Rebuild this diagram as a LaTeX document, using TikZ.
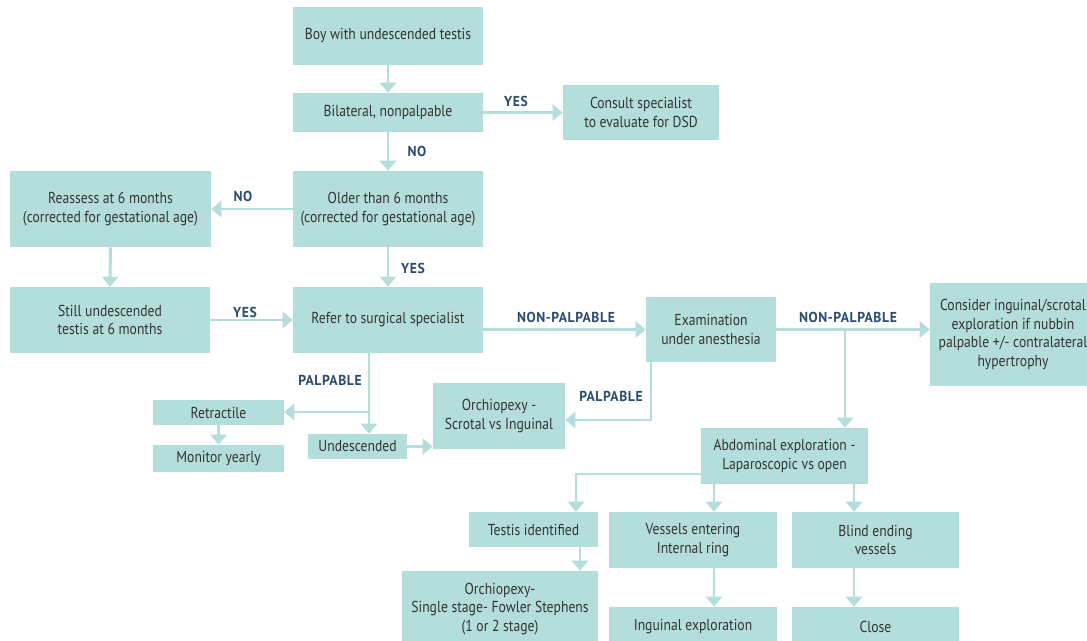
\documentclass[tikz,border=0pt]{standalone}
\usepackage{fontspec}
\setmainfont{PT Sans}[FakeStretch=0.86]
\newfontfamily\lblfont{PT Sans}[FakeStretch=0.95,LetterSpace=4]
\usetikzlibrary{arrows.meta,calc}
\definecolor{boxc}{HTML}{B3DEDB}
\definecolor{txtc}{HTML}{333333}
\definecolor{lblc}{HTML}{2C4B6E}
\begin{document}
\begin{tikzpicture}[x=0.75pt,y=-0.75pt,
  box/.style 2 args={fill=boxc, draw=none, minimum width=#1*0.75pt, minimum height=#2*0.75pt, inner sep=0pt, align=center, font=\fontsize{11.9}{14}\selectfont, text=txtc},
  lbl/.style={font=\lblfont\bfseries\fontsize{10.8}{12}\selectfont, text=lblc, inner sep=0pt},
  conn/.style={draw=boxc, line width=2.2pt, -{Triangle[width=12pt,length=7.5pt]}},
  plain/.style={draw=boxc, line width=2.2pt}]
\useasboundingbox (0,0) rectangle (1087,641);
\clip (0,0) rectangle (1087,641);
% boxes
\node[box={190}{58}] (boy) at (388,36) {Boy with undescended testis};
\node[box={190}{39}] (bil) at (388,112.5) {Bilateral, nonpalpable};
\node[box={156}{55}] (consult) at (641,112.5) {Consult specialist\\to evaluate for DSD};
\node[box={190}{76}] (older) at (388,209) {Older than 6 months\\(corrected for gestational age)};
\node[box={201}{76}] (reassess) at (110.5,209) {Reassess at 6 months\\(corrected for gestational age)};
\node[box={200}{66}] (still) at (110,320) {Still undescended\\testis at 6 months};
\node[box={190}{66}] (refer) at (388,320) {Refer to surgical specialist};
\node[box={130}{65}] (exam) at (711,329.5) {Examination\\under anesthesia};
\node[box={166}{103}] (consider) at (1013,334.5) {Consider inguinal/scrotal\\exploration if nubbin\\palpable +/- contralateral\\hypertrophy};
\node[box={131}{25}] (retr) at (218.5,412.5) {Retractile};
\node[box={131}{27}] (monitor) at (218.5,458.5) {Monitor yearly};
\node[box={99}{25}] (undesc) at (357.5,446.5) {Undescended};
\node[box={132}{66}] (orch1) at (499,416) {Orchiopexy -\\Scrotal vs Inguinal};
\node[box={167}{56}] (abd) at (784.5,456) {Abdominal exploration -\\Laparoscopic vs open};
\node[box={129}{35}] (testis) at (533.5,529.5) {Testis identified};
\node[box={168}{56}] (vessels) at (693,540) {Vessels entering\\Internal ring};
\node[box={167}{56}] (blind) at (875.5,540) {Blind ending\\vessels};
\node[box={196}{76}] (orch2) at (500,609) {Orchiopexy-\\Single stage- Fowler Stephens\\(1 or 2 stage)};
\node[box={168}{40}] (ingu) at (693,627) {Inguinal exploration};
\node[box={167}{40}] (close) at (875.5,627) {Close};
% helper coordinates
\coordinate (pn) at (845,329.5);
\coordinate (pb) at (369,412);
\coordinate (pe) at (651,420);
\coordinate (pt) at (576,474);
\coordinate (xv) at (714,0);
\coordinate (xb) at (854,0);
\coordinate (xt) at (580,0);
% connectors
\draw[conn] (boy.south) -- (bil.north);
\draw[conn] (bil.east) -- (consult.west);
\draw[conn] (bil.south) -- (older.north);
\draw[conn] (older.west) -- (reassess.east);
\draw[conn] (older.south) -- (refer.north);
\draw[conn] (reassess.south) -- (still.north);
\draw[conn] (still.east) -- (refer.west);
\draw[conn] (refer.east |- exam.west) -- (exam.west);
\draw[conn] (exam.east) -- (consider.west |- exam.east);
\draw[conn] (pn) -- (pn |- abd.north);
\draw[plain] (refer.south -| pb) -- (pb);
\draw[conn] (pb) -- (retr.east |- pb);
\draw[conn] (pb) -- (pb |- undesc.north);
\draw[conn] (retr.south) -- (monitor.north);
\draw[conn] (undesc.east) -- (orch1.west |- undesc.east);
\draw[conn] (exam.south -| pe) -- (pe) -- (orch1.east |- pe);
\draw[conn] (abd.west |- pt) -- (pt) -- (pt |- testis.north);
\draw[conn] (abd.south -| xv) -- (xv |- vessels.north);
\draw[conn] (vessels.south -| xv) -- (xv |- ingu.north);
\draw[conn] (abd.south -| xb) -- (xb |- blind.north);
\draw[conn] (blind.south -| xb) -- (xb |- close.north);
\draw[conn] (testis.south -| xt) -- (xt |- orch2.north);
% labels
\node[lbl] (l1) at (516,101) {YES};
\node[lbl] (l2) at (417,151) {NO};
\node[lbl] (l3) at (243,196) {NO};
\node[lbl] (l4) at (413,268) {YES};
\node[lbl] (l5) at (245,312) {YES};
\node[lbl] (l6) at (566,317) {NON-PALPABLE};
\node[lbl] (l7) at (330,380) {PALPABLE};
\node[lbl] (l8) at (611,396) {PALPABLE};
\node[lbl] (l9) at (848,317) {NON-PALPABLE};
\end{tikzpicture}
\end{document}
